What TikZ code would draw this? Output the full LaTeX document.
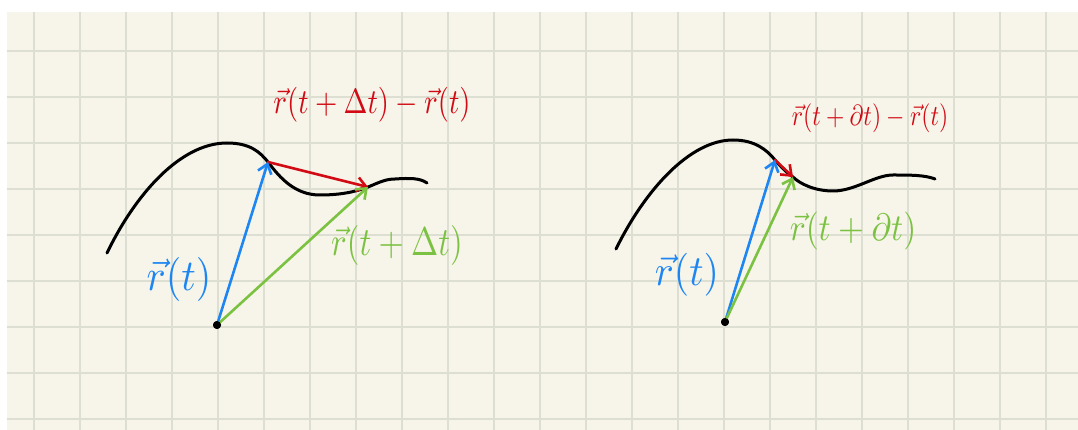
\documentclass[tikz,border=0pt]{standalone}
\usepackage{graphicx}
\usetikzlibrary{arrows.meta}
\definecolor{paper}{HTML}{F7F5E9}
\definecolor{gridc}{HTML}{DEDFD3}
\definecolor{vblue}{HTML}{1E86F2}
\definecolor{vgreen}{HTML}{7CC242}
\definecolor{vred}{HTML}{D20A14}
\tikzset{
  curve/.style={line width=3pt, line cap=round, line join=round, black},
  vec/.style={line width=2.6pt, line cap=round, -{Straight Barb[length=9pt,width=14pt,line width=2.6pt]}},
  lbl/.style={inner sep=0pt},
  dot/.style={circle, fill=black, inner sep=0pt, minimum size=8pt}
}
\begin{document}
\begin{tikzpicture}[x=1pt,y=-1pt]
\useasboundingbox (0,0) rectangle (1078,430);
\fill[white] (0,0) rectangle (1078,430);
\fill[paper] (7,12) rectangle (1078,430);
\foreach \gx in {34,80,...,1046} \draw[gridc, line width=1.8pt] (\gx,12) -- (\gx,430);
\foreach \gy in {50.7,96.7,...,420} \draw[gridc, line width=1.8pt] (7,\gy) -- (1078,\gy);

% ---------- left diagram ----------
\node[dot] (O1) at (217,325) {};
\coordinate (A1) at (268,162);
\coordinate (B1) at (368,187);
\draw[curve] (107,253) .. controls (135,195) and (180,143) .. (227,143)
  .. controls (250,143) and (260,152) .. (A1)
  .. controls (280,178) and (295,195) .. (320,195)
  .. controls (340,195) and (355,192) .. (B1)
  .. controls (378,183) and (385,179) .. (395,179)
  .. controls (410,178) and (420,178) .. (427,183);
\draw[vec, vred] (A1) -- (B1);
\draw[vec, vblue] (O1.center) -- (A1);
\draw[vec, vgreen] (O1.center) -- (B1);
\node[dot] at (O1) {};
\node[lbl, vred] (L1r) at (372,105) {\scalebox{2.87}[3.5]{$\vec r(t+\Delta t)-\vec r(t)$}};
\node[lbl, vblue] (L1b) at (179,279) {\scalebox{4.0}[4.4]{$\vec r(t)$}};
\node[lbl, vgreen] (L1g) at (397,245) {\scalebox{3.26}[4.0]{$\vec r(t+\Delta t)$}};

% ---------- right diagram ----------
\node[dot] (O2) at (725,322) {};
\coordinate (A2) at (775,160);
\coordinate (B2) at (793,177);
\draw[curve] (616,249) .. controls (645,190) and (690,140) .. (733,140)
  .. controls (755,140) and (767,150) .. (A2)
  .. controls (781,167) and (787,173) .. (B2)
  .. controls (800,184) and (815,191) .. (833,191)
  .. controls (855,191) and (875,175) .. (893,175)
  .. controls (910,175) and (925,175) .. (935,179);
\draw[vec, vred] (A2) -- (B2);
\draw[vec, vblue] (O2.center) -- (A2);
\draw[vec, vgreen] (O2.center) -- (B2);
\node[dot] at (O2) {};
\node[lbl, vred] (L2r) at (870,118) {\scalebox{2.36}[2.9]{$\vec r(t+\partial t)-\vec r(t)$}};
\node[lbl, vblue] (L2b) at (687,275) {\scalebox{3.96}[4.3]{$\vec r(t)$}};
\node[lbl, vgreen] (L2g) at (853,231) {\scalebox{3.34}[3.8]{$\vec r(t+\partial t)$}};
\end{tikzpicture}
\end{document}
